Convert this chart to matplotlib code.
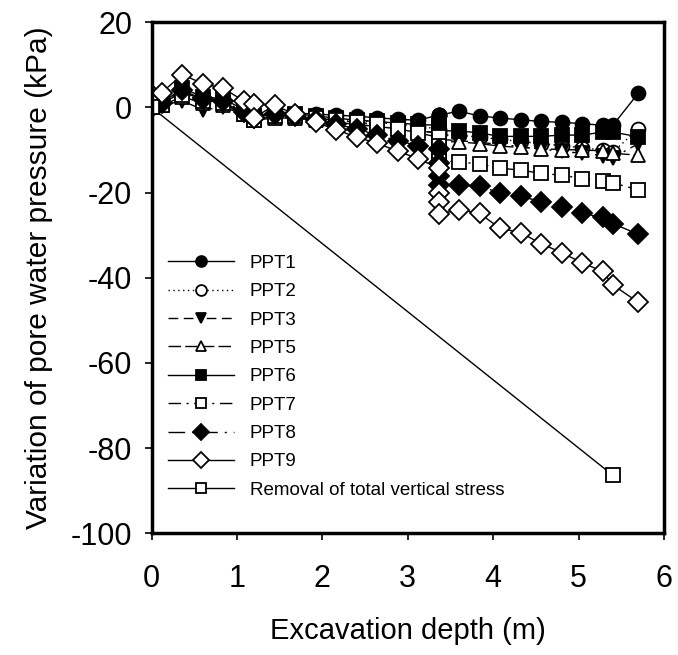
import numpy as np
import matplotlib
matplotlib.use("Agg")
import matplotlib.pyplot as plt

plt.rcParams['font.family'] = ['Liberation Sans', 'DejaVu Sans']
plt.rcParams['axes.unicode_minus'] = False

# excavation depth (m), with repeated readings at 1.2 m and 3.36 m
depth = [0, 0.12, 0.36, 0.6, 0.84, 1.08, 1.2, 1.2, 1.44, 1.68, 1.92, 2.16, 2.4, 2.64, 2.88,
         3.12, 3.36, 3.36, 3.36, 3.36, 3.6, 3.84, 4.08, 4.32, 4.56, 4.8, 5.04, 5.28, 5.4, 5.7]

ppt1 = [0, 1, 3.5, 2, 1, -1, -2, -2.2, -1, -1.3, -1.6, -1.8, -2.1, -2.4, -2.8,
        -3.0, -1.8, -1.8, -1.8, -1.8, -0.9, -2.0, -2.5, -2.9, -3.3, -3.5, -3.8, -4.2, -4.2, 3.4]
ppt2 = [0, 1, 3, 2, 1, -1, -2, -2.5, -1.5, -2, -2.5, -2.8, -3, -3.5, -4,
        -4.5, -5, -5.5, -6, -6.5, -6.5, -7, -7.5, -8, -8.5, -9, -9.5, -10, -10.5, -5]
ppt3 = [0, 0.5, 1.5, -0.5, 0, -1.5, -2.5, -3, -2, -2.5, -3, -3.5, -4, -4.5, -5,
        -5.5, -6, -6.5, -7, -7.5, -7.8, -8.2, -8.7, -9.2, -9.8, -10.3, -10.8, -11.3, -11.8, -8.5]
ppt5 = [0, 0.5, 2.5, 1, 0.5, -1.5, -2.5, -3, -2.5, -2.5, -3, -3.5, -4, -4.5, -5,
        -5.5, -6, -7, -7.5, -8, -8.1, -8.5, -9.1, -9.4, -9.7, -9.9, -10, -10.2, -10.8, -11.2]
ppt6 = [0, 1, 4.5, 2.5, 2, -0.5, -2, -2.5, -1, -1.5, -2, -2.5, -3, -3.3, -3.7,
        -4, -4.2, -4.8, -5.2, -5.5, -5.5, -6, -6.8, -6.8, -6.8, -6.5, -6.5, -5.8, -5.8, -6.9]
ppt7 = [0, 0.5, 3, 1.5, 1, -1.5, -2.5, -3, -2, -2, -2.5, -3, -3.5, -4, -5,
        -6, -7, -9, -11, -12.5, -12.8, -13.3, -14.3, -14.7, -15.5, -15.9, -16.7, -17.2, -17.7, -19.4]
ppt8 = [0, 1, 4, 2, 1.5, -1, -2, -2.5, -1.5, -2, -3, -4, -5, -6.5, -7.8,
        -9, -9.8, -13, -16, -18.3, -18.3, -18.4, -20.2, -20.8, -22.2, -23.4, -24.9, -25.8, -27.3, -29.8]
ppt9 = [2.8, 3.5, 7.7, 5.6, 4.5, 1.5, 0.9, -2.4, 0.5, -1.6, -3.5, -5.2, -7.0, -8.4, -10.3,
        -12, -14.3, -20, -22.2, -25.1, -24, -24.9, -28.4, -29.4, -32, -34.1, -36.5, -38.5, -41.7, -45.8]

removal_depth = [0, 5.4]
removal_stress = [0, -86.4]

fig = plt.figure(figsize=(6.78, 6.55), dpi=100)
ax = fig.add_axes([0.2235, 0.186, 0.756, 0.780])

ms = 10
series = [
    (ppt1, 'PPT1', 'o', 'k', '-'),
    (ppt2, 'PPT2', 'o', 'w', (0, (1, 2.5))),
    (ppt3, 'PPT3', 'v', 'k', (0, (7, 4, 7, 4, 1.5, 4))),
    (ppt5, 'PPT5', '^', 'w', (0, (9, 3))),
    (ppt6, 'PPT6', 's', 'k', '-'),
    (ppt7, 'PPT7', 's', 'w', (0, (9, 4, 1.5, 4))),
    (ppt8, 'PPT8', 'D', 'k', (0, (12, 5, 1.5, 5))),
    (ppt9, 'PPT9', 'D', 'w', '-'),
]
for vals, name, mk, fc, ls in series:
    size = 10.5 if mk == 'D' else ms
    ax.plot(depth, vals, color='k', lw=1.0, ls=ls, marker=mk, ms=size,
            mfc=fc, mec='k', mew=1.3, label=name)

ax.plot(removal_depth, removal_stress, color='k', lw=1.0, marker='s', ms=ms,
        mfc='w', mec='k', mew=1.3, label='Removal of total vertical stress')

ax.set_xlim(0, 6)
ax.set_ylim(-100, 20)
ax.set_xticks(range(0, 7))
ax.set_yticks(range(-100, 21, 20))

for s in ax.spines.values():
    s.set_linewidth(2.5)
ax.tick_params(direction='out', length=5, width=1.2, labelsize=22, pad=9)
ax.tick_params(axis='x', pad=17)

ax.set_xlabel('Excavation depth (m)', fontsize=21, labelpad=17)
ax.set_ylabel('Variation of pore water pressure (kPa)', fontsize=21.5, labelpad=13)

leg = ax.legend(loc='upper left', bbox_to_anchor=(0.0, 0.578), frameon=False,
                fontsize=13.5, handlelength=3.5, markerscale=0.78,
                labelspacing=0.6, handletextpad=0.85, borderaxespad=0.5)

fig.savefig('out.png', dpi=100)
